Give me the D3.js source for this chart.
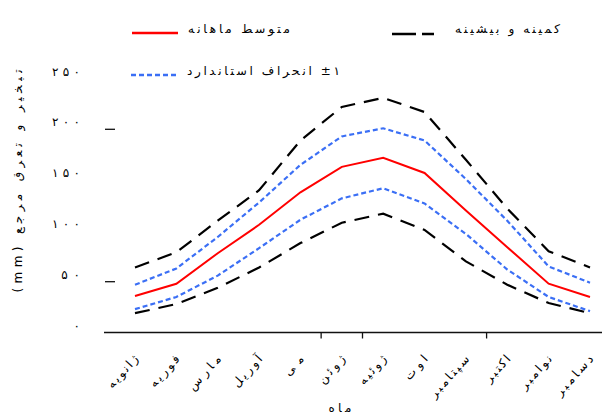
<!DOCTYPE html>
<html><head><meta charset="utf-8">
<script src="https://cdn.jsdelivr.net/npm/d3@7/dist/d3.min.js"></script>
<style>
html,body{margin:0;padding:0;background:#fff;}
svg{display:block;font-family:"DejaVu Sans",sans-serif;}
</style></head>
<body>
<svg id="chart" width="602" height="417"></svg>
<script>
const months = ["ژانویه","فوریه","مارس","آوریل","می","ژوئن","ژوئیه","اوت","سپتامبر","اکتبر","نوامبر","دسامبر"];
const meanValues = [36, 48, 78, 106, 138, 163, 172, 157, 120, 84, 48, 35];
const sdUpper    = [47, 63, 94, 128, 165, 193, 201, 189, 151, 110, 65, 49];
const sdLower    = [23, 35, 56, 83, 111, 132, 142, 127, 97, 62, 35, 21];
const maxValues  = [64, 79, 110, 140, 189, 222, 231, 217, 170, 122, 80, 64];
const minValues  = [19, 28, 44, 64, 88, 108, 117, 101, 70, 47, 29, 19];
const yTickValues = [0, 50, 100, 150, 200, 250];
const yTickMarkValues = [50, 200];
const xTickAfterMonths = ["می", "ژوئن", "سپتامبر"];
const yTitle = "تبخیر و تعرق مرجع (mm)";
const xTitle = "ماه";
const legendMean = "متوسط ماهانه";
const legendMinMax = "کمینه و بیشینه";
const legendSd = "±۱ انحراف استاندارد";

const toFa = n => String(n).replace(/\d/g, d => "۰۱۲۳۴۵۶۷۸۹"[d]);

// widen text (the reference glyphs are loosely spaced)
function widen(sel, f) {
  sel.each(function() {
    const w = this.getComputedTextLength();
    d3.select(this).attr("textLength", w * f).attr("lengthAdjust", "spacing");
  });
}

const svg = d3.select("#chart");
const x = d3.scalePoint().domain(months).range([135, 590]);
const y = d3.scaleLinear().domain([0, 250]).range([332.5, 78.5]);

// x axis line
svg.append("line").attr("x1",104).attr("x2",602).attr("y1",y(0)).attr("y2",y(0))
  .attr("stroke","#111").attr("stroke-width",1.5);
// x tick marks at boundaries
xTickAfterMonths.forEach(m => {
  const i = months.indexOf(m);
  const bx = (x(months[i]) + x(months[i+1])) / 2;
  svg.append("line").attr("x1",bx).attr("x2",bx).attr("y1",y(0)).attr("y2",y(0)+6)
    .attr("stroke","#111").attr("stroke-width",1.3);
});
// y tick marks
yTickMarkValues.forEach(v => {
  svg.append("line").attr("x1",105).attr("x2",115).attr("y1",y(v)).attr("y2",y(v))
    .attr("stroke","#111").attr("stroke-width",1.3);
});
// y tick labels
const ytl = svg.selectAll("text.ytl").data(yTickValues).enter().append("text")
  .attr("class","ytl").attr("x",80).attr("y",d=>y(d)-3)
  .attr("text-anchor","end").attr("font-size",12).attr("fill","#000")
  .text(d=>toFa(d));
widen(ytl, 1.45);
// x labels
const xtl = svg.selectAll("text.xtl").data(months).enter().append("text")
  .attr("class","xtl")
  .attr("transform",d=>`translate(${x(d)+4},${y(0)+27}) rotate(-48)`)
  .attr("text-anchor","end").attr("font-size",12).attr("fill","#000")
  .text(d=>d);
widen(xtl, 1.4);
// axis titles
const yt = svg.append("text").attr("transform","translate(22,181) rotate(-90)")
  .attr("text-anchor","middle").attr("font-size",12).attr("fill","#000")
  .attr("direction","rtl").style("unicode-bidi","embed").text(yTitle);
yt.attr("textLength", 223).attr("lengthAdjust","spacing");
const xt = svg.append("text").attr("x",340).attr("y",412).attr("text-anchor","middle")
  .attr("font-size",12).attr("fill","#000").text(xTitle);
widen(xt, 1.4);

// lines
const line = d3.line().x((d,i)=>x(months[i])).y(d=>y(d));
const series = [
  {vals:maxValues, color:"#000", dash:"15,9", w:2.2},
  {vals:minValues, color:"#000", dash:"15,9", w:2.2},
  {vals:sdUpper, color:"#3b6ff5", dash:"5,3", w:2.2},
  {vals:sdLower, color:"#3b6ff5", dash:"5,3", w:2.2},
  {vals:meanValues, color:"#ff0000", dash:null, w:2}
];
series.forEach(s => {
  svg.append("path").datum(s.vals).attr("d",line).attr("fill","none")
    .attr("stroke",s.color).attr("stroke-width",s.w)
    .attr("stroke-dasharray",s.dash);
});

// legend
const leg = [
  {x1:132,x2:178,y:33,color:"#ff0000",dash:null,label:legendMean,tx:290,ty:33,len:102},
  {x1:392,x2:434,y:34,color:"#000",dash:"24,6",label:legendMinMax,tx:560,ty:33,len:105},
  {x1:131,x2:178,y:75,color:"#3b6ff5",dash:"5,3",label:legendSd,tx:340,ty:75,len:153}
];
leg.forEach(l => {
  svg.append("line").attr("x1",l.x1).attr("x2",l.x2).attr("y1",l.y).attr("y2",l.y)
    .attr("stroke",l.color).attr("stroke-width",2.4).attr("stroke-dasharray",l.dash);
  svg.append("text").attr("x",l.tx).attr("y",l.ty).attr("text-anchor","start")
    .attr("font-size",12).attr("fill","#000").attr("direction","rtl")
    .style("unicode-bidi","embed")
    .attr("textLength",l.len).attr("lengthAdjust","spacing").text(l.label);
});
</script>
</body></html>
